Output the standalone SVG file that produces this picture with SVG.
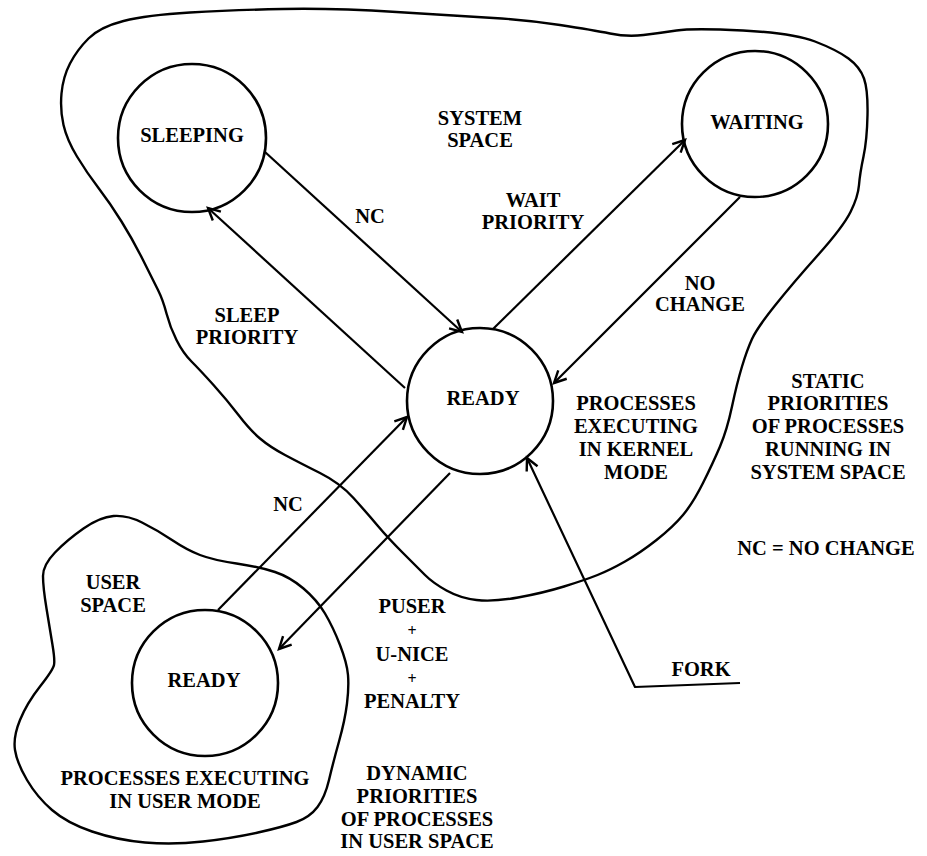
<svg xmlns="http://www.w3.org/2000/svg" width="927" height="856" viewBox="0 0 927 856">
<style>
.bg{fill:#fff}
.blob{fill:none;stroke:#000;stroke-width:2.4;stroke-linejoin:round;stroke-linecap:round}
.node{fill:none;stroke:#000;stroke-width:2.6}
.edge{fill:none;stroke:#000;stroke-width:2.2;stroke-linejoin:round}
text{font-family:"Liberation Serif","Times New Roman",serif;font-weight:bold;font-size:20.5px;fill:#000;text-anchor:middle}
.plus{font-size:16px}
</style>
<defs>
<marker id="arr" markerUnits="userSpaceOnUse" markerWidth="16" markerHeight="16" refX="13" refY="7" orient="auto" viewBox="0 0 16 14">
<path d="M1,1 L13,7 L1,13" fill="none" stroke="#000" stroke-width="2.4"/>
</marker>
</defs>
<rect class="bg" x="0" y="0" width="927" height="856"/>

<g id="system-space">
<path class="blob" d="M123.5,21 Q147,15 190,12.5 Q233,10 283,9 Q333,8 396.5,12 Q460,16 493.5,18 Q527,20 560,25 Q593,30 610,33.5 Q627,37 643.5,35 Q660,33 676.5,30.5 Q693,28 743,30.5 Q793,33 815,41.5 Q837,50 848.5,58.5 Q860,67 864,78.5 Q868,90 867.5,115 Q867,140 863.5,156.5 Q860,173 859,185 Q858,197 850.5,212 Q843,227 818,255 Q793,283 775,305.5 Q757,328 752,339 Q747,350 742,366.5 Q737,383 732,406.5 Q727,430 720,446.5 Q713,463 703,483 Q693,503 683,515 Q673,527 656.5,540 Q640,553 625,561.5 Q610,570 597.5,575 Q585,580 564,586.5 Q543,593 518,597.5 Q493,602 476.5,600 Q460,598 446.5,590.5 Q433,583 425,575 Q417,567 402.5,552.5 Q388,538 377.5,525.5 Q367,513 353.5,498 Q340,483 320,473 Q300,463 285,455 Q270,447 260,438.5 Q250,430 238.5,415 Q227,400 213.5,385 Q200,370 191.5,361.5 Q183,353 176.5,340 Q170,327 166.5,313.5 Q163,300 158,290 Q153,280 143,260 Q133,240 121.5,221.5 Q110,203 98.5,188 Q87,173 77,156.5 Q67,140 63.5,125 Q60,110 61.5,93.5 Q63,77 70,63.5 Q77,50 88.5,38.5 Q100,27 123.5,21 Z"/>
<text x="480" y="125">SYSTEM</text>
<text x="480" y="147">SPACE</text>
<text x="636" y="410">PROCESSES</text>
<text x="636" y="433">EXECUTING</text>
<text x="636" y="456">IN KERNEL</text>
<text x="636" y="479">MODE</text>
</g>

<g id="user-space">
<path class="blob" d="M113.5,516 Q127,515 142,522.5 Q157,530 172,540 Q187,550 200,555 Q213,560 236.5,563.5 Q260,567 275,572 Q290,577 303.5,588.5 Q317,600 325,613.5 Q333,627 340,645 Q347,663 348,675 Q349,687 347,703.5 Q345,720 339,741.5 Q333,763 329,780 Q325,797 317.5,807 Q310,817 296.5,822 Q283,827 258,832.5 Q233,838 203,841.5 Q173,845 145,842.5 Q117,840 92,831.5 Q67,823 52,810 Q37,797 27,780 Q17,763 15,750 Q13,737 20,720 Q27,703 40,686.5 Q53,670 54,665 Q55,660 52.5,645 Q50,630 46.5,608.5 Q43,587 43,576 Q43,565 55,552.5 Q67,540 83.5,528.5 Q100,517 113.5,516 Z"/>
<text x="113" y="589">USER</text>
<text x="113" y="612">SPACE</text>
<text x="185" y="785">PROCESSES EXECUTING</text>
<text x="185" y="808">IN USER MODE</text>
</g>

<g id="sleeping">
<circle class="node" cx="192" cy="138" r="74"/>
<text x="192" y="142">SLEEPING</text>
</g>

<g id="waiting">
<circle class="node" cx="755" cy="124" r="73"/>
<text x="757" y="129">WAITING</text>
</g>

<g id="ready-kernel">
<circle class="node" cx="480" cy="401" r="73"/>
<text x="483" y="405">READY</text>
</g>

<g id="ready-user">
<circle class="node" cx="205" cy="683" r="73"/>
<text x="204" y="687">READY</text>
</g>

<g id="connectors">
<line class="edge" x1="265" y1="152" x2="462" y2="332" marker-end="url(#arr)"/>
<line class="edge" x1="405" y1="388" x2="208" y2="208" marker-end="url(#arr)"/>
<line class="edge" x1="493" y1="329" x2="685" y2="140" marker-end="url(#arr)"/>
<line class="edge" x1="740" y1="197" x2="554" y2="383" marker-end="url(#arr)"/>
<line class="edge" x1="218" y1="610" x2="407" y2="417" marker-end="url(#arr)"/>
<line class="edge" x1="450" y1="473" x2="279" y2="649" marker-end="url(#arr)"/>
<path class="edge" d="M740,683 L635,687 L527,458" marker-end="url(#arr)"/>
</g>

<g id="labels">
<text x="370" y="223">NC</text>
<text x="247" y="322">SLEEP</text>
<text x="247" y="344">PRIORITY</text>
<text x="533" y="207">WAIT</text>
<text x="533" y="229">PRIORITY</text>
<text x="700" y="290">NO</text>
<text x="700" y="311">CHANGE</text>
<text x="288" y="511">NC</text>
<text x="412" y="613">PUSER</text>
<text class="plus" x="412" y="636">+</text>
<text x="412" y="661">U-NICE</text>
<text class="plus" x="412" y="684">+</text>
<text x="412" y="708">PENALTY</text>
<text x="828" y="388">STATIC</text>
<text x="828" y="410">PRIORITIES</text>
<text x="828" y="433">OF PROCESSES</text>
<text x="828" y="456">RUNNING IN</text>
<text x="828" y="479">SYSTEM SPACE</text>
<text x="826" y="555">NC = NO CHANGE</text>
<text x="701" y="676">FORK</text>
<text x="417" y="780">DYNAMIC</text>
<text x="417" y="803">PRIORITIES</text>
<text x="417" y="826">OF PROCESSES</text>
<text x="417" y="848">IN USER SPACE</text>
</g>
</svg>
